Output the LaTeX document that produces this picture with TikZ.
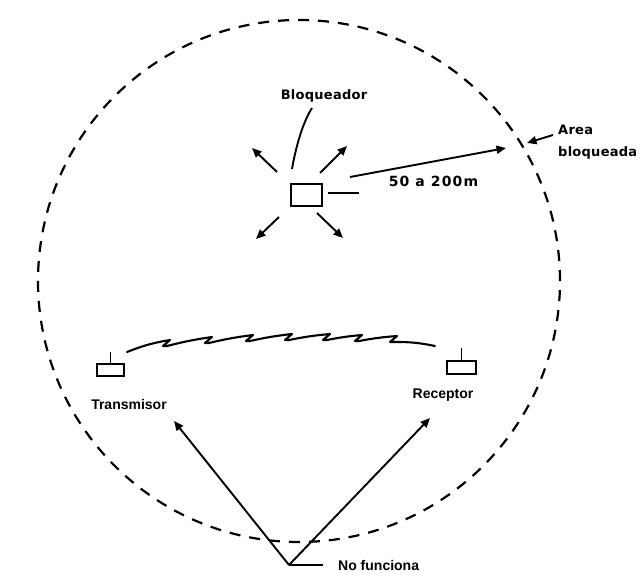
\documentclass[tikz,border=0pt]{standalone}
\usepackage{fontspec}
\setmainfont{Liberation Sans}
\newfontfamily\lettering[LetterSpace=2]{DejaVu Sans Bold}
\newfontfamily\letteringwide[LetterSpace=8]{DejaVu Sans Bold}
\usetikzlibrary{arrows.meta}
\begin{document}
\begin{tikzpicture}[x=1pt,y=-1pt,
  arr/.style={line width=1.9pt, -{Triangle[length=9.5pt,width=8pt]}},
  plainline/.style={line width=1.9pt},
  dev/.style={draw, line width=2.4pt, inner sep=0pt},
  zone/.style={draw, line width=2.2pt, dash pattern=on 11pt off 9pt},
  wave/.style={line width=2.1pt, line join=round, line cap=round},
  labA/.style={font=\fontsize{13}{15}\lettering, inner sep=0pt},
  labB/.style={font=\fontsize{14}{16}\letteringwide, inner sep=0pt},
  labC/.style={font=\fontsize{14}{16}\selectfont\bfseries, inner sep=0pt}]
\useasboundingbox[fill=white] (0,0) rectangle (640,583);

% blocked zone
\draw[zone] (299,281) circle [radius=261pt];

% jammer
\node[dev, minimum width=31pt, minimum height=22pt] (blq) at (306.5,195) {};
\node[labA, anchor=base] (blqlab) at (324,99.5) {Bloqueador};
\coordinate (leadA) at (312,108);
\coordinate (leadB) at (292,169);
\draw[plainline] (leadA) .. controls (303,122) and (296,146) .. (leadB);
\coordinate (stubA) at (328,193);
\coordinate (stubB) at (359,193);
\draw[plainline] (stubA) -- (stubB);

% radiating arrows
\coordinate (ulA) at (277,172); \coordinate (ulB) at (252,148);
\coordinate (urA) at (320,173); \coordinate (urB) at (347,146);
\coordinate (llA) at (279,217); \coordinate (llB) at (256,239);
\coordinate (lrA) at (317,213); \coordinate (lrB) at (343,238);
\draw[arr] (ulA) -- (ulB);
\draw[arr] (urA) -- (urB);
\draw[arr] (llA) -- (llB);
\draw[arr] (lrA) -- (lrB);

% range arrow
\coordinate (rngA) at (350,177);
\coordinate (rngB) at (506,148);
\draw[arr] (rngA) -- (rngB);
\node[labB, anchor=base] (rnglab) at (433.5,186.5) {50 a 200m};

% area label
\node[labA, anchor=base west] (arealab) at (558,135) {Area};
\node[labA, anchor=base west] (arealab2) at (558,157) {bloqueada};
\coordinate (areaA) at (553,135);
\coordinate (areaB) at (527,143);
\draw[arr] (areaA) -- (areaB);

% transmitter and receiver
\node[dev, minimum width=27pt, minimum height=12pt] (tx) at (110.5,370) {};
\coordinate (txant) at (110.5,352);
\draw[plainline] (tx.north) -- (txant);
\node[labC, anchor=base] (txlab) at (129,409) {Transmisor};

\node[dev, minimum width=29pt, minimum height=13pt] (rx) at (461.5,367.5) {};
\coordinate (rxant) at (461.5,348);
\draw[plainline] (rx.north) -- (rxant);
\node[labC, anchor=base] (rxlab) at (443,398) {Receptor};

% radio link
\draw[wave] (127,352) to[bend left=6] (170,340) -- (163,346) -- (167,346)
  to[bend left=3] (212,337) -- (205,343) -- (209,343)
  to[bend left=3] (253,335) -- (246,341) -- (250,341)
  to[bend left=3] (292,334) -- (285,340) -- (289,340)
  to[bend left=3] (330,334) -- (323,340) -- (327,340)
  to[bend left=3] (362,335) -- (355,341) -- (359,341)
  to[bend left=3] (397,336) -- (390,342) -- (394,342)
  to[bend left=6] (435,346);

% "No funciona"
\coordinate (nfv) at (289,565);
\coordinate (nfe) at (323,565);
\coordinate (nfL) at (174,421);
\coordinate (nfR) at (430,418);
\draw[arr] (nfv) -- (nfL);
\draw[arr] (nfv) -- (nfR);
\draw[plainline] (nfv) -- (nfe);
\node[labC, anchor=base west] (nflab) at (338,570) {No funciona};
\end{tikzpicture}
\end{document}
